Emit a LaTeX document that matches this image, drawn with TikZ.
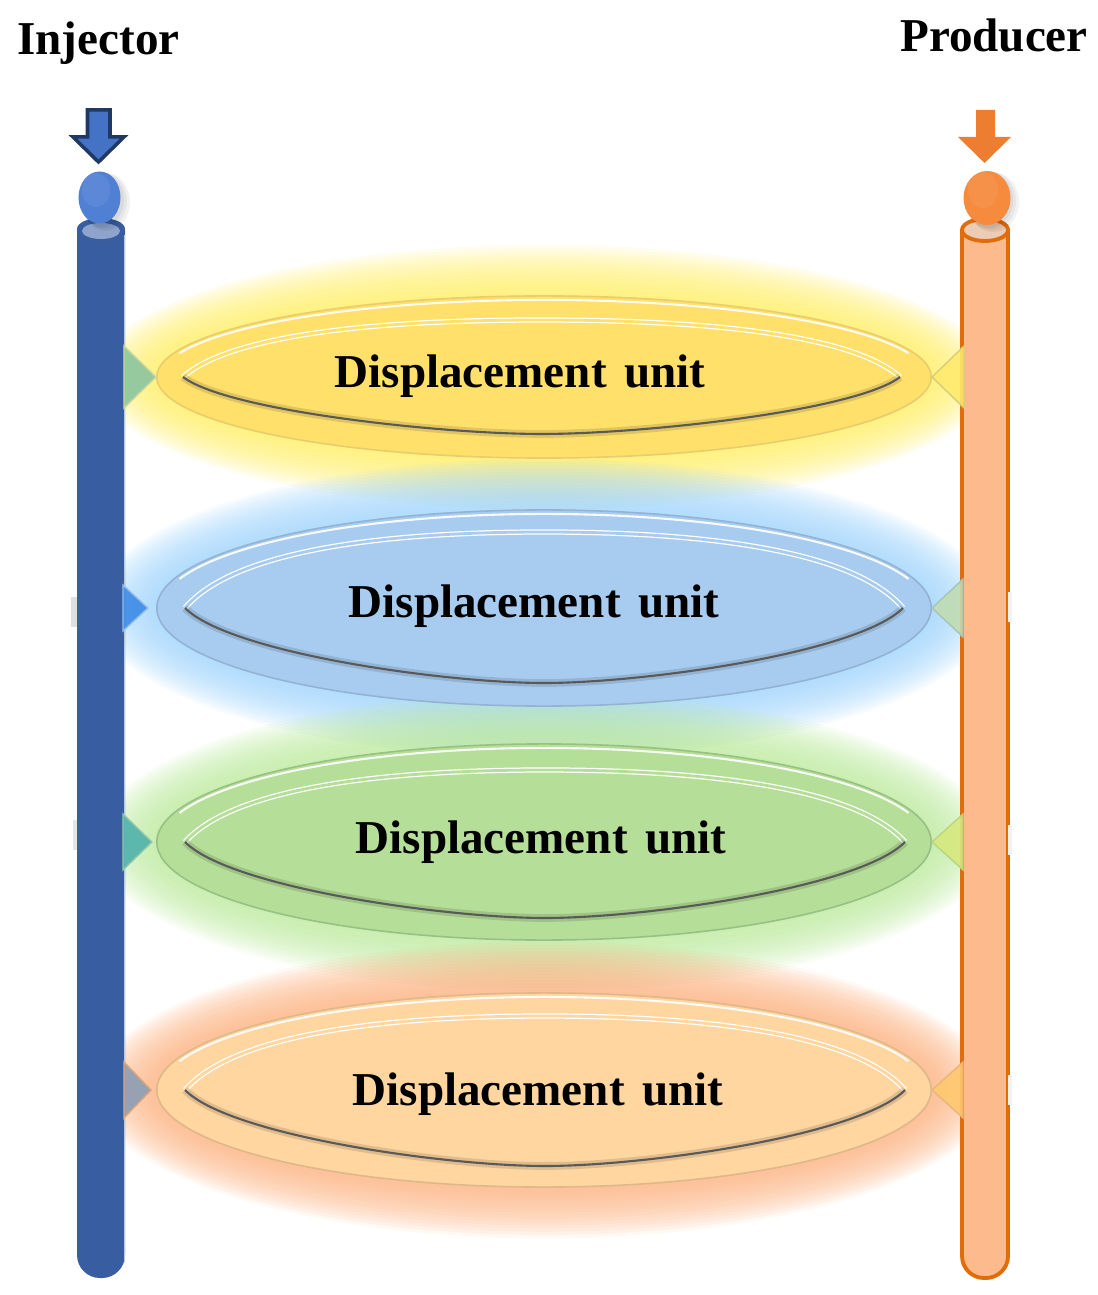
\documentclass[tikz,border=0pt]{standalone}
\usepackage{fontspec}
\setmainfont{Liberation Serif}
\usetikzlibrary{shapes.geometric}

\definecolor{injblue}{RGB}{57,93,161}
\definecolor{injcap}{RGB}{142,164,204}
\definecolor{injball}{RGB}{80,128,212}
\definecolor{injarrow}{RGB}{68,114,196}
\definecolor{injarrowline}{RGB}{31,56,100}
\definecolor{prodfill}{RGB}{253,186,140}
\definecolor{prodline}{RGB}{227,108,10}
\definecolor{prodcap}{RGB}{236,204,180}
\definecolor{prodball}{RGB}{246,139,62}
\definecolor{prodarrow}{RGB}{237,125,49}

\definecolor{yfill}{RGB}{255,224,106}
\definecolor{yglow}{RGB}{255,238,100}
\definecolor{yline}{RGB}{232,204,110}
\definecolor{bfill}{RGB}{168,204,240}
\definecolor{bglow}{RGB}{160,212,252}
\definecolor{bline}{RGB}{148,178,210}
\definecolor{gfill}{RGB}{181,222,152}
\definecolor{gglow}{RGB}{188,234,158}
\definecolor{gline}{RGB}{152,192,132}
\definecolor{ofill}{RGB}{255,214,160}
\definecolor{oglow}{RGB}{252,178,128}
\definecolor{oline}{RGB}{222,184,138}

\newcommand\rowglow[5]{%
  \foreach \k in {1,...,16}{%
    \fill[#5, opacity=0.095] (#1,#2) ellipse [x radius={(#3+3.9*\k)*0.01cm}, y radius={(#4+3.2*\k)*0.01cm}];
  }%
}
% lens: L, R, cy, htop, hbot, fill colour
\newcommand\lensdraw[6]{%
  \pgfmathsetmacro\lcx{(#1+#2)/2}%
  \draw[white, line width=0.35pt, double=#6, double distance=0.8pt]
    (#1,#3) .. controls ({#1+45},{#3-0.7*#4}) and ({\lcx-180},{#3-#4}) .. (\lcx,{#3-#4})
            .. controls ({\lcx+180},{#3-#4}) and ({#2-45},{#3-0.7*#4}) .. (#2,#3);
  \draw[black, opacity=0.12, line width=2.2pt]
    (#1,#3) .. controls ({#1+45},{#3+0.6*#5}) and ({\lcx-100},{#3+#5}) .. (\lcx,{#3+#5})
            .. controls ({\lcx+100},{#3+#5}) and ({#2-45},{#3+0.6*#5}) .. (#2,#3);
  \draw[black!65, line width=0.6pt]
    (#1,#3) .. controls ({#1+45},{#3+0.6*#5}) and ({\lcx-100},{#3+#5}) .. (\lcx,{#3+#5})
            .. controls ({\lcx+100},{#3+#5}) and ({#2-45},{#3+0.6*#5}) .. (#2,#3);
}

\tikzset{
  dunit/.style={ellipse, minimum width=7.74cm, minimum height=#1, inner sep=0pt, line width=0.45pt},
  lbl/.style={font=\bfseries\fontsize{13.4}{16}\selectfont, inner sep=0pt, anchor=base},
  tri/.style={line width=0.4pt, fill opacity=0.9},
  topline/.style={white, line width=0.6pt, opacity=0.9}
}

\begin{document}
\begin{tikzpicture}[x=0.01cm, y=-0.01cm]
\useasboundingbox (0,0) rectangle (1098,1295);

% ---------- glows ----------
\rowglow{544}{377}{387}{81}{yglow}
\rowglow{544}{608}{387}{98}{bglow}
\rowglow{544}{842}{387}{98}{gglow}
\rowglow{544}{1090}{387}{97}{oglow}

% ---------- headings ----------
\node[lbl] (injlabel) at (98.5,55) {Injector};
\node[lbl] (prodlabel) at (994,52) {Producer};

% ---------- injector well ----------
\fill[injblue] (77,230) [rounded corners=0.23cm] -- (77,1278) -- (125,1278) [sharp corners] -- (125,230) -- cycle;
\draw[injcap!60, line width=0.5pt] (124.5,235) -- (124.5,1262);
\fill[injblue] (101,229) ellipse [x radius=0.24cm, y radius=0.11cm];
\fill[injcap] (101,231) ellipse [x radius=0.19cm, y radius=0.08cm];
\foreach \s in {1,2,3}{\fill[black, opacity=0.05] ({100+2*\s},{199+\s}) ellipse [x radius={(21+\s)*0.01cm}, y radius={(26+\s)*0.01cm}];}
\fill[injball] (99.5,197.5) ellipse [x radius=0.21cm, y radius=0.26cm];
\fill[white, opacity=0.07] (96,190) ellipse [x radius=0.14cm, y radius=0.17cm];
\draw[injarrowline, fill=injarrow, line width=1pt, line join=miter]
  (87.5,110) -- (110,110) -- (110,137) -- (124,137) -- (98.5,162) -- (73,137) -- (87.5,137) -- cycle;

% ---------- producer well ----------
\fill[prodfill] (962,230) [rounded corners=0.22cm] -- (962,1278) -- (1008,1278) [sharp corners] -- (1008,230) -- cycle;
\draw[prodline, line width=1.1pt] (962,230) [rounded corners=0.22cm] -- (962,1278) -- (1008,1278) [sharp corners] -- (1008,230);
\filldraw[fill=prodcap, draw=prodline, line width=1.1pt] (985,230) ellipse [x radius=0.23cm, y radius=0.11cm];
\foreach \s in {1,2,3}{\fill[black, opacity=0.05] ({987+2*\s},{199+\s}) ellipse [x radius={(23+\s)*0.01cm}, y radius={(27+\s)*0.01cm}];}
\fill[prodball] (987,198) ellipse [x radius=0.235cm, y radius=0.27cm];
\fill[white, opacity=0.06] (983,190) ellipse [x radius=0.15cm, y radius=0.18cm];
\fill[prodarrow]
  (976,110) -- (995,110) -- (995,137) -- (1011,137) -- (984.5,163) -- (958,137) -- (976,137) -- cycle;

% faint marks beside the wells
\fill[gray!25] (71,597) rectangle (77,627);
\fill[gray!20] (73,820) rectangle (77,850);
\fill[gray!10] (1008,592) rectangle (1012,622);
\fill[gray!10] (1008,825) rectangle (1012,855);
\fill[gray!10] (1008,1075) rectangle (1012,1105);

% ---------- displacement units ----------
\node[dunit=1.62cm, fill=yfill, draw=yline] (u1) at (544,377) {};
\node[dunit=1.96cm, fill=bfill, draw=bline] (u2) at (544,608) {};
\node[dunit=1.96cm, fill=gfill, draw=gline] (u3) at (544,842) {};
\node[dunit=1.94cm, fill=ofill, draw=oline] (u4) at (544,1090) {};

% connectors (triangles) between wells and units
\filldraw[tri, fill={rgb,255:red,140;green,197;blue,160}, draw={rgb,255:red,200;green,214;blue,160}]
  (u1.west) -- ++(-32,-31) -- ++(0,62) -- cycle;
\filldraw[tri, fill={rgb,255:red,255;green,234;blue,110}, draw={rgb,255:red,214;green,205;blue,120}]
  (u1.east) -- ++(32,-31) -- ++(0,62) -- cycle;
\filldraw[tri, fill={rgb,255:red,60;green,140;blue,230}, draw={rgb,255:red,150;green,190;blue,235}]
  ([xshift=-0.08cm]u2.west) -- ++(-25,-23) -- ++(0,46) -- cycle;
\filldraw[tri, fill={rgb,255:red,192;green,220;blue,178}, draw={rgb,255:red,165;green,196;blue,186}]
  (u2.east) -- ++(31,-29) -- ++(0,58) -- cycle;
\filldraw[tri, fill={rgb,255:red,80;green,178;blue,170}, draw={rgb,255:red,150;green,200;blue,170}]
  ([xshift=-0.04cm]u3.west) -- ++(-29,-28) -- ++(0,56) -- cycle;
\filldraw[tri, fill={rgb,255:red,214;green,232;blue,125}, draw={rgb,255:red,185;green,212;blue,130}]
  (u3.east) -- ++(31,-28) -- ++(0,56) -- cycle;
\filldraw[tri, fill={rgb,255:red,140;green,157;blue,180}, draw={rgb,255:red,220;green,165;blue,125}]
  ([xshift=-0.05cm]u4.west) -- ++(-27,-28) -- ++(0,56) -- cycle;
\filldraw[tri, fill={rgb,255:red,255;green,200;blue,110}, draw={rgb,255:red,232;green,182;blue,122}]
  (u4.east) -- ++(31,-28) -- ++(0,56) -- cycle;

% highlight lines on the outer ellipses
\draw[topline] (u1.center) ++(162:3.83cm and 0.77cm) arc[start angle=162, end angle=18, x radius=3.83cm, y radius=0.77cm];
\draw[topline] (u2.center) ++(162:3.83cm and 0.94cm) arc[start angle=162, end angle=18, x radius=3.83cm, y radius=0.94cm];
\draw[topline] (u3.center) ++(162:3.83cm and 0.94cm) arc[start angle=162, end angle=18, x radius=3.83cm, y radius=0.94cm];
\draw[topline] (u4.center) ++(162:3.83cm and 0.93cm) arc[start angle=162, end angle=18, x radius=3.83cm, y radius=0.93cm];

% inner lenses
\lensdraw{183}{900}{377}{57}{57}{yfill}
\lensdraw{185}{903}{608}{76}{75}{bfill}
\lensdraw{185}{905}{842}{72}{76}{gfill}
\lensdraw{185}{905}{1090}{74}{76}{ofill}

% labels
\node[lbl] (t1) at (520,388) {Displacement\hspace{0.12em} unit};
\node[lbl] (t2) at (534,617) {Displacement\hspace{0.12em} unit};
\node[lbl] (t3) at (541,853) {Displacement\hspace{0.12em} unit};
\node[lbl] (t4) at (538,1105) {Displacement\hspace{0.12em} unit};
\end{tikzpicture}
\end{document}
